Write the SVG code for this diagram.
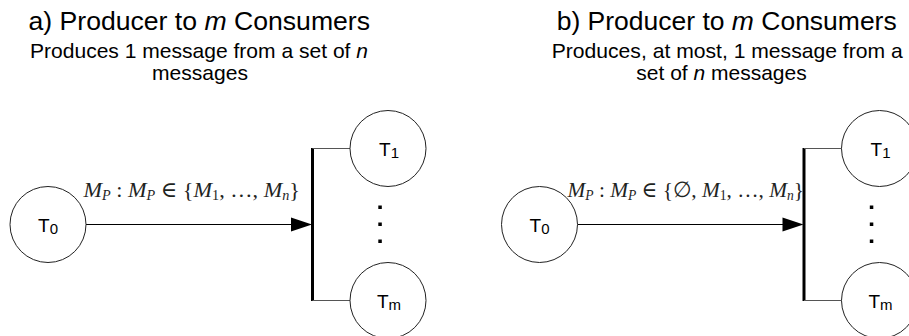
<svg xmlns="http://www.w3.org/2000/svg" width="909" height="336" viewBox="0 0 909 336">
<style>
.title{font-family:"Liberation Sans",Arial,sans-serif;font-size:25px;fill:#000}
.sub{font-family:"Liberation Sans",Arial,sans-serif;font-size:21px;fill:#000}
.it{font-style:italic}
.node circle{fill:#fff;stroke:#222;stroke-width:1}
.node text{font-family:"Liberation Sans",Arial,sans-serif;font-size:19px;fill:#000;text-anchor:middle}
.node .s{font-size:15px}
.edge{stroke:#000;stroke-width:1;fill:none}
.branch{stroke:#555;stroke-width:1;fill:none}
.bar{stroke:#000;stroke-width:3;fill:none}
.head{fill:#000}
.dot{fill:#000}
.math{font-family:"Liberation Serif","DejaVu Serif","Times New Roman",serif;font-size:22px;fill:#1e241e}
.math .v{font-style:italic}
.math .sb{font-size:14px}
</style>

<g id="titles">
  <text class="title" x="28.5" y="30" textLength="341.5" lengthAdjust="spacingAndGlyphs">a) Producer to <tspan class="it">m</tspan> Consumers</text>
  <text class="sub" x="30" y="57.5" textLength="338" lengthAdjust="spacingAndGlyphs">Produces 1 message from a set of <tspan class="it">n</tspan></text>
  <text class="sub" x="152" y="79.5" textLength="96" lengthAdjust="spacingAndGlyphs">messages</text>

  <text class="title" x="556.7" y="30" textLength="340" lengthAdjust="spacingAndGlyphs">b) Producer to <tspan class="it">m</tspan> Consumers</text>
  <text class="sub" x="551.7" y="57.5" textLength="351" lengthAdjust="spacingAndGlyphs">Produces, at most, 1 message from a</text>
  <text class="sub" x="721.5" y="79.5" text-anchor="middle">set of <tspan class="it">n</tspan> messages</text>
</g>

<g id="connectors">
  <!-- panel a -->
  <line class="edge" x1="86" y1="224.5" x2="292" y2="224.5"/>
  <polygon class="head" points="291,217.5 312,224.5 291,231.5"/>
  <line class="bar" x1="312.5" y1="148" x2="312.5" y2="301"/>
  <line class="branch" x1="312.5" y1="148.5" x2="350" y2="148.5"/>
  <line class="branch" x1="312.5" y1="300.5" x2="350" y2="300.5"/>
  <rect class="dot" x="378.3" y="205.5" width="3.5" height="3.5"/>
  <rect class="dot" x="378.3" y="222.5" width="3.5" height="3.5"/>
  <rect class="dot" x="378.3" y="239.5" width="3.5" height="3.5"/>
  <text class="math" x="83.5" y="197" textLength="216.5" lengthAdjust="spacingAndGlyphs"><tspan class="v">M</tspan><tspan class="v sb" dy="3">P</tspan><tspan dy="-3"> : </tspan><tspan class="v">M</tspan><tspan class="v sb" dy="3">P</tspan><tspan dy="-3"> ∈ {</tspan><tspan class="v">M</tspan><tspan class="sb" dy="3">1</tspan><tspan dy="-3">, …, </tspan><tspan class="v">M</tspan><tspan class="v sb" dy="3">n</tspan><tspan dy="-3">}</tspan></text>

  <!-- panel b -->
  <line class="edge" x1="577.5" y1="224.5" x2="783" y2="224.5"/>
  <polygon class="head" points="782.5,217.5 803.5,224.5 782.5,231.5"/>
  <line class="bar" x1="804" y1="148" x2="804" y2="301"/>
  <line class="branch" x1="804" y1="148.5" x2="841.5" y2="148.5"/>
  <line class="branch" x1="804" y1="300.5" x2="841.5" y2="300.5"/>
  <rect class="dot" x="869.8" y="205.5" width="3.5" height="3.5"/>
  <rect class="dot" x="869.8" y="222.5" width="3.5" height="3.5"/>
  <rect class="dot" x="869.8" y="239.5" width="3.5" height="3.5"/>
  <text class="math" x="567.5" y="197" textLength="236.5" lengthAdjust="spacingAndGlyphs"><tspan class="v">M</tspan><tspan class="v sb" dy="3">P</tspan><tspan dy="-3"> : </tspan><tspan class="v">M</tspan><tspan class="v sb" dy="3">P</tspan><tspan dy="-3"> ∈ {∅, </tspan><tspan class="v">M</tspan><tspan class="sb" dy="3">1</tspan><tspan dy="-3">, …, </tspan><tspan class="v">M</tspan><tspan class="v sb" dy="3">n</tspan><tspan dy="-3">}</tspan></text>
</g>

<g id="a_T0" class="node">
  <circle cx="48" cy="224.5" r="38"/>
  <text x="48" y="231.5">T<tspan class="s" dy="2">0</tspan></text>
</g>
<g id="a_T1" class="node">
  <circle cx="388" cy="148.5" r="38"/>
  <text x="389" y="155.5">T<tspan class="s" dy="2">1</tspan></text>
</g>
<g id="a_Tm" class="node">
  <circle cx="388" cy="300.5" r="38"/>
  <text x="389" y="307.5">T<tspan class="s" dy="2">m</tspan></text>
</g>

<g id="b_T0" class="node">
  <circle cx="539.5" cy="224.5" r="38"/>
  <text x="539.5" y="231.5">T<tspan class="s" dy="2">0</tspan></text>
</g>
<g id="b_T1" class="node">
  <circle cx="879.5" cy="148.5" r="38"/>
  <text x="880.5" y="155.5">T<tspan class="s" dy="2">1</tspan></text>
</g>
<g id="b_Tm" class="node">
  <circle cx="879.5" cy="300.5" r="38"/>
  <text x="880.5" y="307.5">T<tspan class="s" dy="2">m</tspan></text>
</g>
</svg>
